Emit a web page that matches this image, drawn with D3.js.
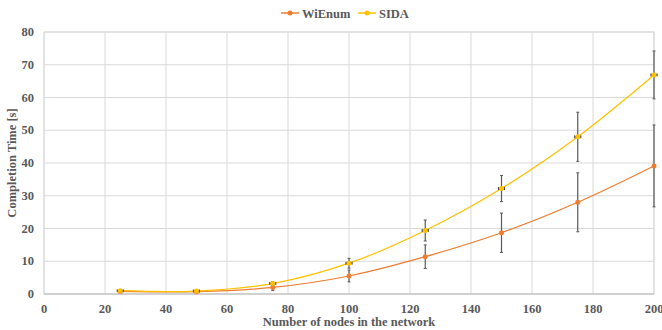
<!DOCTYPE html>
<html>
<head>
<meta charset="utf-8">
<script src="https://cdn.jsdelivr.net/npm/d3@7"></script>
<style>
  body { margin: 0; background: #fff; }
  text { font-family: "Liberation Serif", "Times New Roman", serif; font-weight: bold; fill: #595959; }
</style>
</head>
<body>
<svg id="chart" width="662" height="330"></svg>
<script>
const nodes = [25, 50, 75, 100, 125, 150, 175, 200];
const wienum = [0.8, 0.7, 2.0, 5.5, 11.4, 18.7, 28.0, 39.1];
const wienumErr = [0.3, 0.3, 0.9, 1.8, 3.6, 6.0, 9.0, 12.5];
const sida = [1.0, 0.9, 3.2, 9.4, 19.4, 32.2, 48.0, 66.9];
const sidaErr = [0.3, 0.3, 0.6, 1.5, 3.2, 4.0, 7.5, 7.3];
const sidaXErr = 1.0;
const xTicks = [0, 20, 40, 60, 80, 100, 120, 140, 160, 180, 200];
const yTicks = [0, 10, 20, 30, 40, 50, 60, 70, 80];

const series = [
  { name: 'WiEnum', values: wienum, err: wienumErr, xErr: 0, color: '#ED7D31' },
  { name: 'SIDA', values: sida, err: sidaErr, xErr: sidaXErr, color: '#FFC000' }
];

const svg = d3.select('#chart');
const m = { left: 44, right: 654, top: 32, bottom: 294 };

const x = d3.scaleLinear().domain([0, 200]).range([m.left, m.right]);
const y = d3.scaleLinear().domain([0, 80]).range([m.bottom, m.top]);

// grid
svg.append('g').selectAll('line')
  .data(yTicks).join('line')
  .attr('x1', m.left).attr('x2', m.right)
  .attr('y1', d => y(d)).attr('y2', d => y(d))
  .attr('stroke', '#d9d9d9').attr('stroke-width', 1);
svg.append('g').selectAll('line')
  .data(xTicks).join('line')
  .attr('y1', m.top).attr('y2', m.bottom)
  .attr('x1', d => x(d)).attr('x2', d => x(d))
  .attr('stroke', '#d9d9d9').attr('stroke-width', 1);

// tick labels
svg.append('g').selectAll('text')
  .data(yTicks).join('text')
  .attr('x', m.left - 10).attr('y', d => y(d) + 4)
  .attr('text-anchor', 'end').attr('font-size', 12.5)
  .text(d => d);
svg.append('g').selectAll('text')
  .data(xTicks).join('text')
  .attr('x', d => x(d)).attr('y', m.bottom + 19)
  .attr('text-anchor', 'middle').attr('font-size', 12.5)
  .text(d => d);

svg.append('text')
  .attr('x', x(100)).attr('y', 326)
  .attr('text-anchor', 'middle').attr('font-size', 12.5)
  .text('Number of nodes in the network');
svg.append('text')
  .attr('transform', `translate(16,${(m.top + m.bottom) / 2}) rotate(-90)`)
  .attr('text-anchor', 'middle').attr('font-size', 12.5)
  .text('Completion Time [s]');

// plot border
svg.append('rect')
  .attr('x', m.left).attr('y', m.top).attr('width', m.right - m.left).attr('height', m.bottom - m.top)
  .attr('fill', 'none').attr('stroke', '#d9d9d9');
svg.append('line')
  .attr('x1', m.left).attr('x2', m.right).attr('y1', m.bottom).attr('y2', m.bottom)
  .attr('stroke', '#bfbfbf');

const line = d3.line()
  .x(d => x(d[0])).y(d => y(d[1]))
  .curve(d3.curveCatmullRom.alpha(0));

series.forEach(s => {
  const pts = nodes.map((n, i) => [n, s.values[i], s.err[i]]);
  const g = svg.append('g');
  g.append('path')
    .attr('d', line(pts))
    .attr('fill', 'none').attr('stroke', s.color).attr('stroke-width', 1.25);

  // vertical error bars
  g.append('g').selectAll('line').data(pts).join('line')
    .attr('x1', d => x(d[0])).attr('x2', d => x(d[0]))
    .attr('y1', d => y(d[1] - d[2])).attr('y2', d => y(d[1] + d[2]))
    .attr('stroke', '#595959').attr('stroke-width', 1.2);
  g.append('g').selectAll('line').data(pts.flatMap(d => [d[1] + d[2], d[1] - d[2]].map(v => [d[0], v]))).join('line')
    .attr('x1', d => x(d[0]) - 1.5).attr('x2', d => x(d[0]) + 1.5)
    .attr('y1', d => y(d[1])).attr('y2', d => y(d[1]))
    .attr('stroke', '#595959').attr('stroke-width', 1);

  if (s.xErr > 0) {
    g.append('g').selectAll('line').data(pts).join('line')
      .attr('x1', d => x(d[0] - s.xErr)).attr('x2', d => x(d[0] + s.xErr))
      .attr('y1', d => y(d[1])).attr('y2', d => y(d[1]))
      .attr('stroke', '#404040').attr('stroke-width', 1.5);
    g.append('g').selectAll('line').data(pts.flatMap(d => [[d[0] - s.xErr, d[1]], [d[0] + s.xErr, d[1]]])).join('line')
      .attr('x1', d => x(d[0])).attr('x2', d => x(d[0]))
      .attr('y1', d => y(d[1]) - 1.5).attr('y2', d => y(d[1]) + 1.5)
      .attr('stroke', '#404040').attr('stroke-width', 1);
  }

  g.append('g').selectAll('circle').data(pts).join('circle')
    .attr('cx', d => x(d[0])).attr('cy', d => y(d[1]))
    .attr('r', 2.5).attr('fill', s.color);
});

// legend
const legX = [281, 358];
series.forEach((s, i) => {
  const lg = svg.append('g').attr('transform', `translate(${legX[i]},13)`);
  lg.append('line').attr('x1', 0).attr('x2', 18).attr('y1', 0).attr('y2', 0)
    .attr('stroke', s.color).attr('stroke-width', 1.5);
  lg.append('circle').attr('cx', 9).attr('cy', 0).attr('r', 2.5).attr('fill', s.color);
  lg.append('text').attr('x', 21).attr('y', 4.5).attr('font-size', 12.5).text(s.name);
});
</script>
</body>
</html>
